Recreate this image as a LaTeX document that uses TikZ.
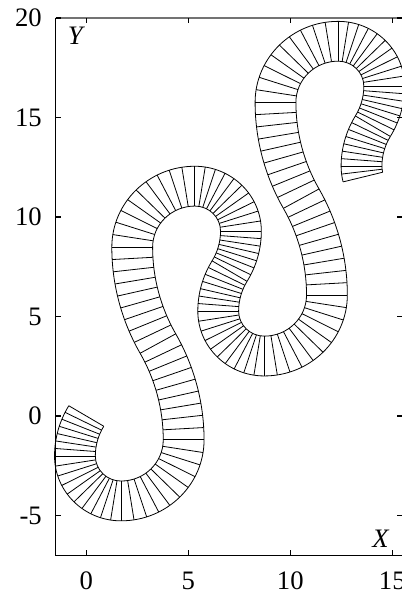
\documentclass[tikz,border=0pt]{standalone}
\usepackage{fontspec}
\setmainfont{Liberation Serif}
\usepackage{tikz}
\usetikzlibrary{calc}

\begin{document}
\begin{tikzpicture}[
      x=15.3pt, y=14.925pt,
      pista/.style={line width=0.6pt},
      eixo/.style={line width=1pt},
      marca/.style={line width=0.8pt},
      rotulo/.style={font=\fontsize{20}{24}\selectfont, inner sep=0pt}
  ]
      \useasboundingbox (-4.23,-8.945) rectangle (15.475,20.905);

      % Pista: arcos encadeados (giro/raio/linhas)
      \xdef\posx{0}\xdef\posy{0}\xdef\rumo{239}
      \draw[pista] (\rumo+90:1) -- (\rumo-90:1);
      \foreach \giro/\raio/\nl in {
          31/3.9/7, 90/2.26/10, 90/3.07/10, 29.2/9.92/9,
          -29.2/9.92/9, -90/3.07/10, -90/2.26/10, -31/3.9/7,
          31/3.9/7, 90/2.26/10, 90/3.07/10, 29.2/9.92/9,
          -29.2/9.92/9, -90/3.07/10, -90/2.26/10, -31/3.9/7,
          31/3.9/7, 14/2.26/2}{
        \pgfmathsetmacro\sg{sign(\giro)}
        \pgfmathsetmacro\cenx{\posx+\raio*cos(\rumo+\sg*90)}
        \pgfmathsetmacro\ceny{\posy+\raio*sin(\rumo+\sg*90)}
        \pgfmathsetmacro\fa{\rumo-\sg*90}
        \pgfmathsetmacro\ri{\raio-1}
        \pgfmathsetmacro\ro{\raio+1}
        \draw[pista] (\cenx,\ceny) ++(\fa:\ro) arc[start angle=\fa, delta angle=\giro, radius=\ro];
        \draw[pista] (\cenx,\ceny) ++(\fa:\ri) arc[start angle=\fa, delta angle=\giro, radius=\ri];
        \foreach \k in {1,...,\nl}{
          \pgfmathsetmacro\fk{\fa+\k*\giro/\nl}
          \draw[pista] (\cenx,\ceny) ++(\fk:\ri) -- ++(\fk:2);
        }
        \pgfmathsetmacro\nx{\cenx+\raio*cos(\fa+\giro)}
        \pgfmathsetmacro\ny{\ceny+\raio*sin(\fa+\giro)}
        \pgfmathsetmacro\nr{\rumo+\giro}
        \xdef\posx{\nx}\xdef\posy{\ny}\xdef\rumo{\nr}
      }

      % Eixos
      \draw[eixo] (-1.5,20) -- (-1.5,-7) -- (15.5,-7) -- (15.5,20);
      \draw[eixo, black!55] (-1.5,20) -- (15.5,20);
      \foreach \t in {0,5,10,15}{
        \draw[marca] (\t,-7) -- ++(0,0.25);
        \draw[marca] (\t,20) -- ++(0,-0.25);
        \node[rotulo] (tx\t) at (\t,-8.28) {\t};
      }
      \foreach \t in {-5,0,5,10,15,20}{
        \draw[marca] (-1.5,\t) -- ++(0.25,0);
        \draw[marca] (15.5,\t) -- ++(-0.25,0);
        \node[rotulo, anchor=east] (ty\t) at (-2.17,\t) {\t};
      }
      \node[rotulo] (rotx) at (14.45,-6.18) {\textit{X}};
      \node[rotulo] (roty) at (-0.48,19.1) {\textit{Y}};
  \end{tikzpicture}
\end{document}
